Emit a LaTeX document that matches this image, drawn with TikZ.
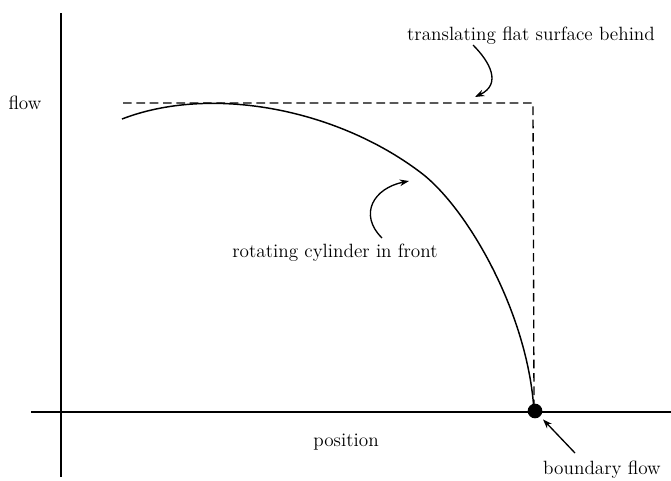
\documentclass[tikz,border=0pt]{standalone}
\usetikzlibrary{arrows.meta}
\begin{document}
\begin{tikzpicture}[x=0.75pt, y=-0.75pt,
    >={Stealth[length=7pt, width=5pt]},
    axis/.style={line width=1.1pt},
    lbl/.style={font=\fontsize{14.4}{16}\selectfont, inner sep=0pt},
    pointer/.style={->, line width=1pt}]
    \useasboundingbox (0,0) rectangle (671,480);

    % Achsen
    \coordinate (ytop) at (61,13);
    \coordinate (ybot) at (61,477);
    \coordinate (xleft) at (31,412);
    \coordinate (xright) at (671,412);
    \draw[axis] (ytop) -- (ybot);
    \draw[axis] (xleft) -- (xright);
    \node[lbl] (flowlbl) at (25,103) {flow};
    \node[lbl] (poslbl) at (346,442) {position};

    % Flaeche (gestrichelt)
    \coordinate (fs) at (123,103);
    \coordinate (fc) at (533,103);
    \coordinate (fe) at (534,405);
    \draw[line width=1pt, dash pattern=on 6.5pt off 3.5pt] (fs) -- (fc) -- (fe);

    % Zylinder
    \coordinate (cs) at (122,119);
    \coordinate (cm) at (420,172);
    \coordinate (ce) at (534,411);
    \draw[line width=1.1pt] (cs) .. controls (210,85) and (335,108) .. (cm)
        .. controls (466,206) and (528,312) .. (ce);

    % Randpunkt
    \node[circle, fill, inner sep=0pt, minimum size=11pt] (bnd) at (535,411) {};

    % Beschriftungen
    \node[lbl] (surflbl) at (531,36) {translating flat surface behind};
    \coordinate (surftail) at (473,45);
    \coordinate (surftip) at (475,97);
    \draw[pointer] (surftail) .. controls (490,62) and (502,84) .. (surftip);

    \node[lbl] (cyllbl) at (335,253) {rotating cylinder in front};
    \coordinate (cyltail) at (382,238);
    \coordinate (cyltip) at (409,181);
    \draw[pointer] (cyltail) .. controls (358,214) and (374,188) .. (cyltip);

    \node[lbl] (bndlbl) at (602,470) {boundary flow};
    \coordinate (bndtail) at (575,453);
    \draw[pointer, shorten >=3pt] (bndtail) -- (bnd);
\end{tikzpicture}
\end{document}
